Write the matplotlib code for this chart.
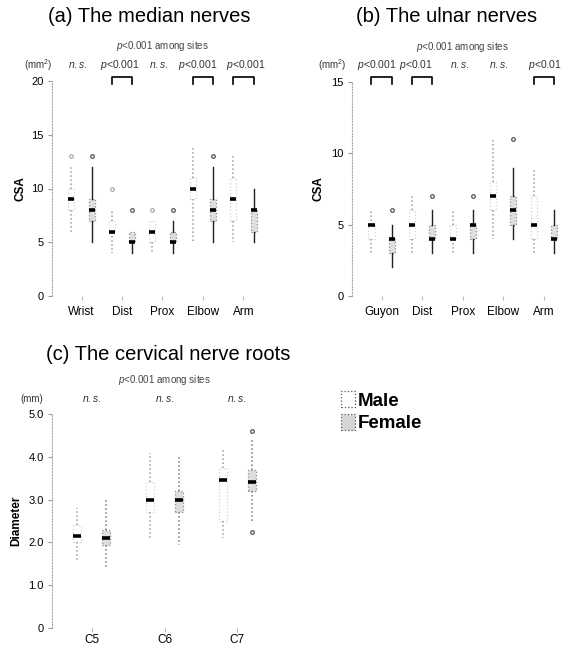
import matplotlib
matplotlib.use('Agg')
import matplotlib.pyplot as plt
from matplotlib.patches import Rectangle
from matplotlib.lines import Line2D
from matplotlib.transforms import blended_transform_factory
import numpy as np

plt.rcParams['font.family'] = ['Liberation Sans', 'DejaVu Sans']
plt.rcParams['mathtext.fontset'] = 'custom'
plt.rcParams['mathtext.it'] = 'Liberation Sans:italic'
plt.rcParams['mathtext.rm'] = 'Liberation Sans'

# ---------------- data ----------------
# (a) median nerves CSA (mm^2)
a_sites = ['Wrist', 'Dist', 'Prox', 'Elbow', 'Arm']
a_male_lo = [6, 4, 4, 5, 5]
a_male_q1 = [8, 6, 5, 9, 7]
a_male_med = [9, 6, 6, 10, 9]
a_male_q3 = [10, 7, 7, 11, 11]
a_male_hi = [12, 8, 7, 14, 13]
a_male_fl = [[13], [10], [8], [], []]
a_fem_lo = [5, 4, 4, 5, 5]
a_fem_q1 = [7, 5, 5, 7, 6]
a_fem_med = [8, 5, 5, 8, 8]
a_fem_q3 = [9, 6, 6, 9, 8]
a_fem_hi = [12, 6, 7, 12, 10]
a_fem_fl = [[13], [8], [8], [13], []]
a_sig = ['$n.s.$', '$p$<0.001', '$n.s.$', '$p$<0.001', '$p$<0.001']
a_bracket = [False, True, False, True, True]

# (b) ulnar nerves CSA (mm^2)
b_sites = ['Guyon', 'Dist', 'Prox', 'Elbow', 'Arm']
b_male_lo = [3, 3, 3, 4, 3]
b_male_q1 = [4, 4, 4, 6, 4]
b_male_med = [5, 5, 4, 7, 5]
b_male_q3 = [5, 6, 5, 8, 7]
b_male_hi = [6, 7, 6, 11, 9]
b_male_fl = [[], [], [], [], []]
b_fem_lo = [2, 3, 3, 4, 3]
b_fem_q1 = [3, 4, 4, 5, 4]
b_fem_med = [4, 4, 5, 6, 4]
b_fem_q3 = [4, 5, 5, 7, 5]
b_fem_hi = [5, 6, 6, 9, 6]
b_fem_fl = [[6], [7], [7], [11], []]
b_sig = ['$p$<0.001', '$p$<0.01', '$n.s.$', '$n.s.$', '$p$<0.01']
b_bracket = [True, True, False, False, True]

# (c) cervical nerve roots diameter (mm)
c_sites = ['C5', 'C6', 'C7']
c_male_lo = [1.6, 2.1, 2.1]
c_male_q1 = [2.0, 2.7, 2.5]
c_male_med = [2.15, 3.0, 3.45]
c_male_q3 = [2.4, 3.4, 3.75]
c_male_hi = [2.8, 4.1, 4.15]
c_male_fl = [[], [], []]
c_fem_lo = [1.4, 1.95, 2.5]
c_fem_q1 = [1.95, 2.7, 3.2]
c_fem_med = [2.1, 3.0, 3.4]
c_fem_q3 = [2.3, 3.2, 3.7]
c_fem_hi = [3.0, 4.0, 4.4]
c_fem_fl = [[], [], [2.25, 4.6]]
c_sig = ['$n.s.$', '$n.s.$', '$n.s.$']
c_bracket = [False, False, False]

# ---------------- layout helpers ----------------
W, H = 564, 649
fig = plt.figure(figsize=(W / 100, H / 100), dpi=100)


def fx(px):
    return px / W


def fy(py):
    return 1 - py / H


def make_axes(left, right, top, bottom):
    return fig.add_axes([fx(left), fy(bottom), (right - left) / W, (bottom - top) / H])


def build_stats(lo, q1, med, q3, hi, fl):
    out = []
    for i in range(len(med)):
        out.append(dict(whislo=lo[i], q1=q1[i], med=med[i], q3=q3[i],
                        whishi=hi[i], fliers=fl[i], mean=med[i]))
    return out


def draw_panel(ax, sites, male, female, offset, width, fem_whisk, xpad=4):
    x = np.arange(len(sites))
    ax.bxp(build_stats(*male), positions=x - offset, widths=width,
           patch_artist=True, showcaps=False,
           boxprops=dict(facecolor='white', edgecolor='#d4d4d4',
                         linestyle=':', linewidth=0.9),
           whiskerprops=dict(color='#9a9a9a', linestyle=':', linewidth=1.1),
           medianprops=dict(color='black', linewidth=2.6, solid_capstyle='butt'),
           flierprops=dict(marker='o', markersize=2.6, markerfacecolor='white',
                           markeredgecolor='#a0a0a0', markeredgewidth=0.8))
    ax.bxp(build_stats(*female), positions=x + offset, widths=width,
           patch_artist=True, showcaps=False,
           boxprops=dict(facecolor='#dedede', edgecolor='#8c8c8c',
                         linestyle=':', linewidth=0.9),
           whiskerprops=fem_whisk,
           medianprops=dict(color='black', linewidth=2.6, solid_capstyle='butt'),
           flierprops=dict(marker='o', markersize=2.6, markerfacecolor='white',
                           markeredgecolor='#555555', markeredgewidth=0.9))
    ax.set_xticks(x)
    ax.set_xticklabels(sites, fontsize=8.5)
    for s in ['top', 'right', 'bottom']:
        ax.spines[s].set_visible(False)
    ax.spines['left'].set_linestyle(':')
    ax.spines['left'].set_color('#aaaaaa')
    ax.spines['left'].set_linewidth(0.8)
    ax.tick_params(axis='x', length=3, color='#bbbbbb', pad=xpad)
    ax.tick_params(axis='y', length=3, color='#999999', labelsize=8, pad=3)
    ax.patch.set_alpha(0)


def annotate(ax, sites, sig, bracket, shifts, offset, title, tx, ty, sub_y,
             row_y, unit, unit_x, br_top, br_bot, ylabel, ylabel_x):
    tr = blended_transform_factory(ax.transData, fig.transFigure)
    fig.text(fx(tx), fy(ty), title, fontsize=14.5, ha='center', va='center')
    x = np.arange(len(sites))
    xmid = (x[0] + x[-1]) / 2
    ax.text(xmid, fy(sub_y), '$p$<0.001 among sites', transform=tr,
            fontsize=7, ha='center', va='center', color='#444444')
    fig.text(fx(unit_x), fy(row_y), unit, fontsize=7, ha='center',
             va='center', color='#333333')
    for i in range(len(sites)):
        ax.text(x[i] + shifts[i], fy(row_y), sig[i], transform=tr, fontsize=7.5,
                ha='center', va='center', color='#333333')
        if bracket[i]:
            ax.add_line(Line2D([x[i] - offset, x[i] - offset, x[i] + offset, x[i] + offset],
                               [fy(br_bot), fy(br_top), fy(br_top), fy(br_bot)],
                               transform=tr, color='black', linewidth=1.2,
                               clip_on=False))
    fig.text(fx(ylabel_x), (ax.get_position().y0 + ax.get_position().y1) / 2,
             ylabel, rotation=90, fontsize=8.5, fontweight='bold',
             ha='center', va='center')


dark_whisk = dict(color='#202020', linestyle='-', linewidth=1.0)
light_whisk = dict(color='#777777', linestyle=':', linewidth=1.1)

# ---------------- panel (a) ----------------
ax_a = make_axes(52, 275, 81, 296)
draw_panel(ax_a, a_sites,
           (a_male_lo, a_male_q1, a_male_med, a_male_q3, a_male_hi, a_male_fl),
           (a_fem_lo, a_fem_q1, a_fem_med, a_fem_q3, a_fem_hi, a_fem_fl),
           0.25, 0.15, dark_whisk)
ax_a.set_xlim(-0.73, 4.78)
ax_a.set_ylim(0, 20)
ax_a.set_yticks([0, 5, 10, 15, 20])
annotate(ax_a, a_sites, a_sig, a_bracket, [-0.1, -0.05, -0.1, -0.12, 0.07], 0.25,
         '(a) The median nerves', 149, 17, 46, 65, '(mm$^2$)', 38, 77, 84, 'CSA', 20)

# ---------------- panel (b) ----------------
ax_b = make_axes(352, 562, 82, 296)
draw_panel(ax_b, b_sites,
           (b_male_lo, b_male_q1, b_male_med, b_male_q3, b_male_hi, b_male_fl),
           (b_fem_lo, b_fem_q1, b_fem_med, b_fem_q3, b_fem_hi, b_fem_fl),
           0.25, 0.15, dark_whisk)
ax_b.set_xlim(-0.73, 4.45)
ax_b.set_ylim(0, 15)
ax_b.set_yticks([0, 5, 10, 15])
annotate(ax_b, b_sites, b_sig, b_bracket, [-0.12, -0.15, -0.07, -0.1, 0.04], 0.25,
         '(b) The ulnar nerves', 447, 17, 47, 65, '(mm$^2$)', 332, 77, 84, 'CSA', 318)

# ---------------- panel (c) ----------------
ax_c = make_axes(52, 275, 414, 628)
draw_panel(ax_c, c_sites,
           (c_male_lo, c_male_q1, c_male_med, c_male_q3, c_male_hi, c_male_fl),
           (c_fem_lo, c_fem_q1, c_fem_med, c_fem_q3, c_fem_hi, c_fem_fl),
           0.2, 0.11, light_whisk, xpad=1.5)
ax_c.set_xlim(-0.55, 2.52)
ax_c.set_ylim(0, 5)
ax_c.set_yticks([0, 1, 2, 3, 4, 5])
ax_c.set_yticklabels(['0', '1.0', '2.0', '3.0', '4.0', '5.0'])
annotate(ax_c, c_sites, c_sig, c_bracket, [0, 0, 0], 0.2,
         '(c) The cervical nerve roots', 168, 355, 380, 399, '(mm)', 32, 0, 0,
         'Diameter', 16)

# ---------------- legend ----------------
fig.patches.append(Rectangle((fx(341), fy(407)), 14 / W, 16 / H,
                             transform=fig.transFigure, facecolor='white',
                             edgecolor='#555555', linestyle=':', linewidth=0.9))
fig.patches.append(Rectangle((fx(341), fy(430)), 14 / W, 16 / H,
                             transform=fig.transFigure, facecolor='#d6d6d6',
                             edgecolor='#555555', linestyle=':', linewidth=0.9))
fig.text(fx(358), fy(401), 'Male', fontsize=13.5, fontweight='bold',
         ha='left', va='center')
fig.text(fx(358), fy(423), 'Female', fontsize=13.5, fontweight='bold',
         ha='left', va='center')

fig.savefig('out.png', dpi=100)
